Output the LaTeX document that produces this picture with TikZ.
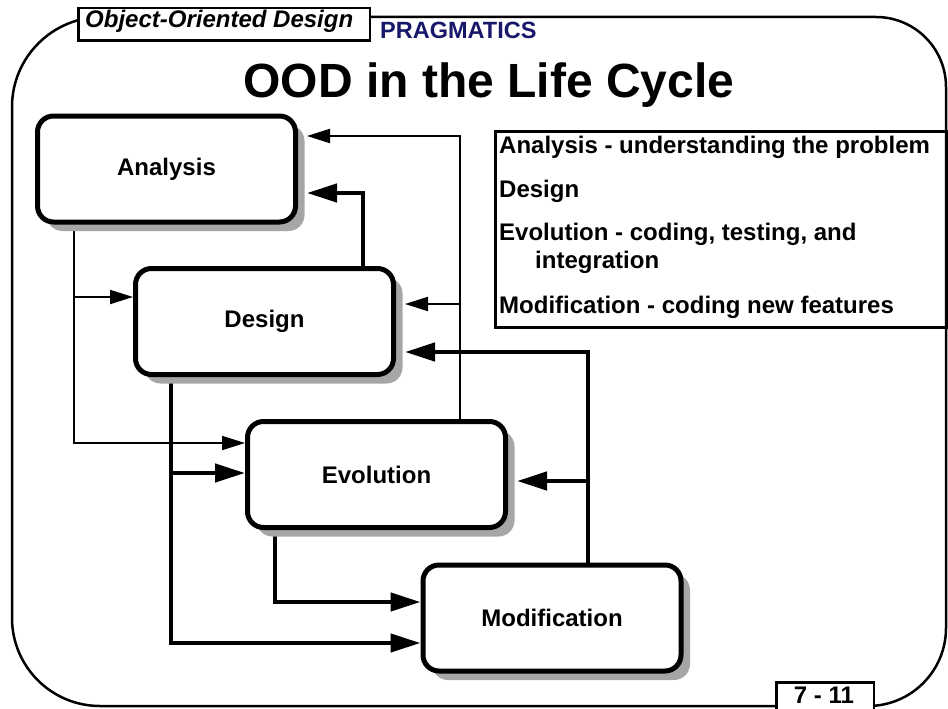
\documentclass[tikz,border=0pt]{standalone}
\usepackage{fontspec}
\setmainfont{Liberation Sans}
\usetikzlibrary{arrows.meta,shadows,backgrounds}
\definecolor{navy}{RGB}{24,24,107}
\definecolor{shadowgray}{RGB}{166,166,166}
\tikzset{
  stagebox/.style={draw, line width=5pt, rounded corners=16pt, fill=white,
    minimum width=258pt, minimum height=106pt, inner sep=0pt,
    font=\fontsize{24}{28}\selectfont\bfseries,
    drop shadow={shadow xshift=9pt, shadow yshift=-9pt, fill=shadowgray, opacity=1}},
  thinarrow/.style={line width=2pt, -{Triangle[length=23pt,width=14pt]}},
  thickarrow/.style={line width=4.5pt, -{Triangle[length=30pt,width=18pt]}},
  framestyle/.style={line width=2.5pt},
  labelbox/.style={draw, line width=2.5pt, fill=white, inner sep=0pt},
  legendtext/.style={anchor=base west, inner sep=0pt, font=\fontsize{24}{28}\selectfont\bfseries},
}
\begin{document}
\begin{tikzpicture}[x=1pt,y=-1pt]
\useasboundingbox (0,0) rectangle (948,709);

% stage boxes
\node[stagebox] (Analysis) at (166.5,169) {Analysis};
\node[stagebox] (Design) at (264.5,321.5) {Design};
\node[stagebox] (Evolution) at (376.5,474.5) {Evolution};
\node[stagebox] (Modification) at (552,618) {Modification};

\coordinate (AnaR) at ([xshift=9pt]Analysis.east);
\coordinate (DesR) at ([xshift=9pt]Design.east);
\coordinate (EvoR) at ([xshift=9pt]Evolution.east);

% header
\node[labelbox, minimum width=291.5pt, minimum height=32.5pt] (oodbox) at (224,24.5) {};
\node[anchor=base west, inner sep=0pt, font=\fontsize{24}{28}\selectfont\bfseries\itshape] (oodtext) at (85,28) {Object-Oriented Design};
\node[anchor=base west, inner sep=0pt, text=navy, font=\fontsize{23.5}{28}\selectfont\bfseries] (prag) at (380,39) {PRAGMATICS};
\node[anchor=base, inner sep=0pt, font=\fontsize{48}{56}\selectfont\bfseries] (title) at (489,97) {OOD in the Life Cycle};

% page number
\node[labelbox, minimum width=97.5pt, minimum height=40pt, anchor=north west] (pagebox) at (775.25,681.25) {};
\node[anchor=base, inner sep=0pt, font=\fontsize{24}{28}\selectfont\bfseries] (pagenum) at (824,703) {7 - 11};

% legend
\node[draw, line width=3pt, minimum width=451pt, minimum height=196pt, inner sep=0pt, anchor=north west] (legend) at (493.5,129.5) {};
\node[legendtext] (l1) at (499,153) {Analysis - understanding the problem};
\node[legendtext] (l2) at (499,197) {Design};
\node[legendtext] (l3) at (499,240) {Evolution - coding, testing, and};
\node[legendtext] (l4) at (535,268) {integration};
\node[legendtext] (l5) at (499,313) {Modification - coding new features};

\begin{pgfonlayer}{background}
\fill[white] (0,0) rectangle (948,709);
\draw[framestyle] (102,17) -- (876,17) arc[start angle=-90,end angle=0,radius=70]
  -- (946,628) arc[start angle=0,end angle=90,radius=78]
  -- (100,706) arc[start angle=90,end angle=180,radius=88]
  -- (12,107) arc[start angle=180,end angle=270,radius=90] -- cycle;

\coordinate (t1) at (74,297);
\coordinate (t2) at (74,443);
\coordinate (t3) at (460,136);
\coordinate (t4) at (460,304);
\coordinate (k1) at (363,193);
\coordinate (k2) at (171,473);
\coordinate (k3) at (171,643);
\coordinate (k4) at (588,352);
\coordinate (k5) at (588,481);
\coordinate (k6) at (275,602);

\draw[thinarrow] (t2 |- Analysis.south) -- (t2) -- (t2 -| Evolution.west);
\draw[thinarrow] (t1) -- (t1 -| Design.west);
\draw[thinarrow] (t3 |- Evolution.north) -- (t3) -- (t3 -| AnaR);
\draw[thinarrow] (t4) -- (t4 -| DesR);
\draw[thickarrow] (k1 |- Design.north) -- (k1) -- (k1 -| AnaR);
\draw[thickarrow] (k3 |- Design.south) -- (k3) -- (k3 -| Modification.west);
\draw[thickarrow] (k2) -- (k2 -| Evolution.west);
\draw[thickarrow] (k4 |- Modification.north) -- (k4) -- (k4 -| DesR);
\draw[thickarrow] (k5) -- (k5 -| EvoR);
\draw[thickarrow] (k6 |- Evolution.south) -- (k6) -- (k6 -| Modification.west);
\end{pgfonlayer}
\end{tikzpicture}
\end{document}
